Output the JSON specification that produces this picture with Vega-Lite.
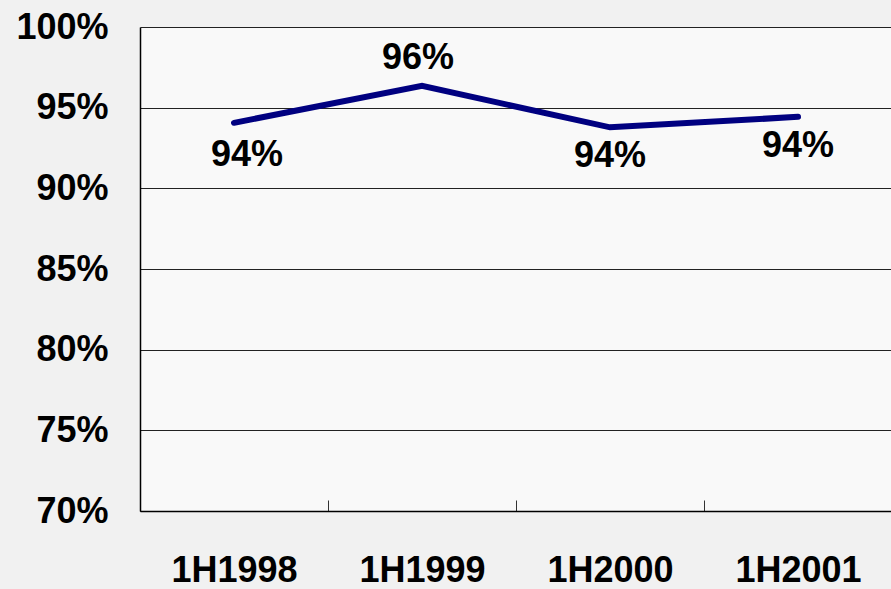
{
  "$schema": "https://vega.github.io/schema/vega-lite/v6.json",
  "width": 752,
  "height": 484,
  "autosize": {"type": "none"},
  "padding": {"left": 140, "top": 27, "right": 0, "bottom": 78},
  "background": "#f1f1f1",
  "config": {
    "view": {"fill": "#f9f9f9", "stroke": null},
    "font": "Liberation Sans"
  },
  "data": {
    "values": [
      {"period": "1H1998", "rate": 0.9406},
      {"period": "1H1999", "rate": 0.9635},
      {"period": "1H2000", "rate": 0.9378},
      {"period": "1H2001", "rate": 0.9443}
    ]
  },
  "encoding": {
    "x": {
      "field": "period",
      "type": "nominal",
      "sort": null,
      "scale": {"paddingInner": 0, "paddingOuter": 0},
      "axis": {
        "title": null,
        "labelAngle": 0,
        "labelFont": "Liberation Sans",
        "labelFontSize": 36,
        "labelFontWeight": "bold",
        "labelColor": "#000000",
        "labelPadding": 53,
        "labelBaseline": "top",
        "tickBand": "extent",
        "tickSize": -11,
        "tickColor": "#333333",
        "tickWidth": 1,
        "domainColor": "#000000",
        "domainWidth": 1.5,
        "grid": false
      }
    },
    "y": {
      "field": "rate",
      "type": "quantitative",
      "scale": {"domain": [0.7, 1.0], "nice": false, "zero": false},
      "axis": {
        "title": null,
        "format": ".0%",
        "values": [0.7, 0.75, 0.8, 0.85, 0.9, 0.95, 1.0],
        "labelFont": "Liberation Sans",
        "labelFontSize": 36,
        "labelFontWeight": "bold",
        "labelColor": "#000000",
        "labelPadding": 32,
        "ticks": false,
        "grid": true,
        "gridColor": "#222222",
        "gridWidth": 1,
        "domainColor": "#000000",
        "domainWidth": 1.5
      }
    }
  },
  "layer": [
    {
      "mark": {"type": "line", "color": "#000080", "strokeWidth": 6, "strokeCap": "round", "strokeJoin": "miter"}
    },
    {
      "transform": [{"filter": "datum.period === '1H1998'"}],
      "mark": {"type": "text", "font": "Liberation Sans", "fontSize": 36, "fontWeight": "bold", "color": "#000000", "baseline": "middle", "dx": 13, "dy": 32},
      "encoding": {"text": {"field": "rate", "type": "quantitative", "format": ".0%"}}
    },
    {
      "transform": [{"filter": "datum.period === '1H2000' || datum.period === '1H2001'"}],
      "mark": {"type": "text", "font": "Liberation Sans", "fontSize": 36, "fontWeight": "bold", "color": "#000000", "baseline": "middle", "dy": 29},
      "encoding": {"text": {"field": "rate", "type": "quantitative", "format": ".0%"}}
    },
    {
      "transform": [{"filter": "datum.period === '1H1999'"}],
      "mark": {"type": "text", "font": "Liberation Sans", "fontSize": 36, "fontWeight": "bold", "color": "#000000", "baseline": "middle", "dx": -4, "dy": -28},
      "encoding": {"text": {"field": "rate", "type": "quantitative", "format": ".0%"}}
    }
  ]
}
